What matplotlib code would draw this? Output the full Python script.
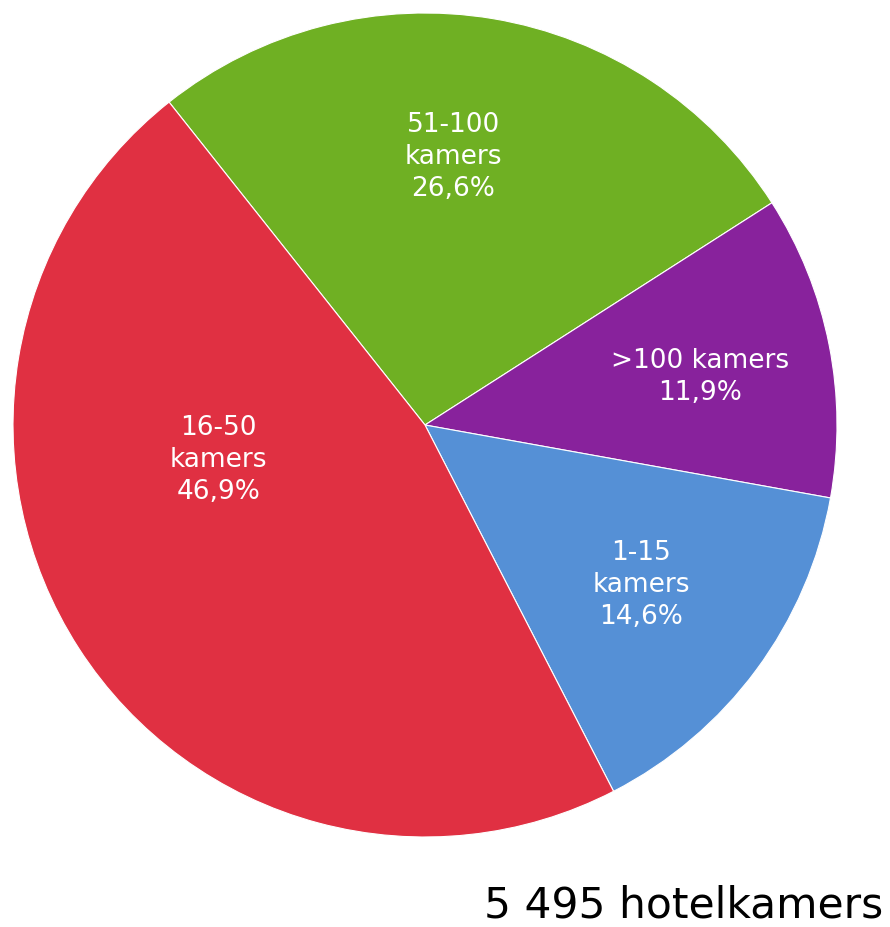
import matplotlib.pyplot as plt
import numpy as np

categories = ["51-100\nkamers", ">100 kamers", "1-15\nkamers", "16-50\nkamers"]
shares = [26.6, 11.9, 14.6, 46.9]
share_labels = ["26,6%", "11,9%", "14,6%", "46,9%"]
colors = ["#6fb023", "#88229c", "#5590d6", "#e03042"]
total_label = "5 495 hotelkamers"

fig = plt.figure(figsize=(8.9, 9.27), dpi=100)
ax = fig.add_axes([13 / 890, 90 / 927, 824 / 890, 824 / 927])

wedges, _ = ax.pie(shares, colors=colors, startangle=128.4, counterclock=False,
                   wedgeprops=dict(linewidth=0.8, edgecolor="white"))

# label placement (radius, angle in degrees), roughly like the original
label_pos = [(0.654, 84.0), (0.677, 10.0), (0.653, -36.5), (0.509, 189.6)]
for cat, pct, (r, a) in zip(categories, share_labels, label_pos):
    x, y = r * np.cos(np.radians(a)), r * np.sin(np.radians(a))
    ax.text(x, y, f"{cat}\n{pct}", ha="center", va="center", color="white",
            fontsize=19, linespacing=1.3, family="DejaVu Sans")

ax.set_xlim(-1, 1)
ax.set_ylim(-1, 1)
ax.set_aspect("equal")
ax.axis("off")

fig.text(883 / 890, 1 - 917 / 927, total_label, ha="right", va="baseline",
         fontsize=30.5, color="black")

plt.savefig("out.png", dpi=100)
